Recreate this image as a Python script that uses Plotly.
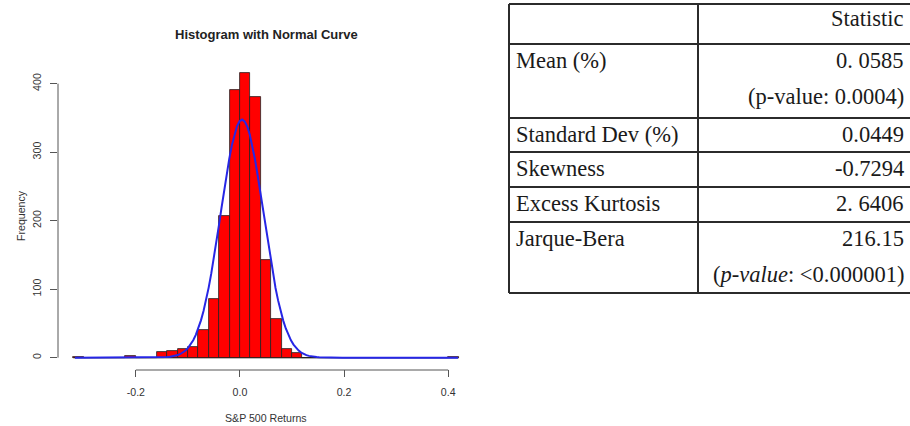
import math
import plotly.graph_objects as go

# ---------------- data ----------------
bin_start = -0.32
bin_width = 0.02
counts = [1, 0, 0, 0, 0, 2, 0, 0, 8, 9, 12, 15, 41, 85, 207, 391, 415, 380,
          143, 57, 12, 7, 0, 0, 0, 0, 0, 0, 0, 0, 0, 0, 0, 0, 0, 0, 1]
normal_mean = 0.004
normal_sd = 0.041
data_min = -0.317
data_max = 0.419
n_curve_points = 150

x_tickvals = [-0.2, 0.0, 0.2, 0.4]
x_ticktext = ["-0.2", "0.0", "0.2", "0.4"]
y_tickvals = [0, 100, 200, 300, 400]

table_header = "Statistic"
table_labels = ["Mean (%)", "Standard Dev (%)", "Skewness", "Excess Kurtosis", "Jarque-Bera"]
table_values = ["0. 0585", "0.0449", "-0.7294", "2. 6406", "216.15"]
table_notes = ["(p-value: 0.0004)", None, None, None, "(<i>p-value</i>: &lt;0.000001)"]

# ---------------- derived ----------------
centers = [bin_start + bin_width * (i + 0.5) for i in range(len(counts))]
bin_end = bin_start + bin_width * len(counts)
total = sum(counts)
step = (data_max - data_min) / (n_curve_points - 1)
xfit = [data_min + step * i for i in range(n_curve_points)]
yfit = [total * bin_width * math.exp(-0.5 * ((x - normal_mean) / normal_sd) ** 2)
        / (normal_sd * math.sqrt(2 * math.pi)) for x in xfit]

span = bin_end - bin_start
xr = [bin_start - 0.04 * span, bin_end + 0.04 * span]
ymax = max(counts)
yr = [-0.04 * ymax, ymax * 1.04]

# plot area in pixels
W, H = 910, 426
PL, PR, PT, PB = 58, 474, 62, 369


def px_x(p):
    return (p - PL) / (PR - PL)


def px_y(p):
    return (PB - p) / (PB - PT)


fig = go.Figure()
fig.add_trace(go.Bar(x=centers, y=counts, width=bin_width,
                     marker=dict(color="#ff0000", line=dict(color="#222222", width=0.8)),
                     showlegend=False, hoverinfo="skip"))
fig.add_trace(go.Scatter(x=xfit, y=yfit, mode="lines",
                         line=dict(color="#2626e6", width=2),
                         showlegend=False, hoverinfo="skip"))

axis_col = "#555555"
text_col = "#333333"
shapes = [
    # zero-count baseline (R draws empty bins as flat rects)
    dict(type="line", xref="x", yref="y", x0=bin_start, x1=bin_end, y0=0, y1=0,
         line=dict(color="#222222", width=1.2), layer="below"),
    # R-style axis lines
    dict(type="line", xref="x", yref="paper", x0=x_tickvals[0], x1=x_tickvals[-1],
         y0=px_y(370), y1=px_y(370), line=dict(color=axis_col, width=1)),
    dict(type="line", xref="paper", yref="y", x0=0, x1=0, y0=y_tickvals[0], y1=y_tickvals[-1],
         line=dict(color=axis_col, width=1)),
]

annotations = [
    dict(text="<b>Histogram with Normal Curve</b>", xref="paper", yref="paper",
         x=px_x(266), y=px_y(35), showarrow=False, xanchor="center", yanchor="middle",
         font=dict(family="Liberation Sans, Arial", size=13, color="#222222")),
    dict(text="S&P 500 Returns", xref="paper", yref="paper",
         x=px_x(266), y=px_y(418), showarrow=False, xanchor="center", yanchor="middle",
         font=dict(family="Liberation Sans, Arial", size=10.6, color=text_col)),
    dict(text="Frequency", xref="paper", yref="paper", textangle=-90,
         x=px_x(21), y=px_y(216), showarrow=False, xanchor="center", yanchor="middle",
         font=dict(family="Liberation Sans, Arial", size=10.6, color=text_col)),
]

# ---------------- table ----------------
tbl_left, tbl_mid, tbl_right = 509, 698, 915
row_lines = [4, 44, 118, 152, 187, 222, 293]
line_pitch = 36
first_offset = 16
tcol = "#2b2b2b"
tfont = dict(family="Liberation Serif, Times New Roman", size=22.5, color="#1a1a1a")

for yline in row_lines:
    shapes.append(dict(type="line", xref="paper", yref="paper",
                       x0=px_x(tbl_left), x1=px_x(tbl_right), y0=px_y(yline), y1=px_y(yline),
                       line=dict(color=tcol, width=2)))
for xline in (tbl_left, tbl_mid):
    shapes.append(dict(type="line", xref="paper", yref="paper",
                       x0=px_x(xline), x1=px_x(xline), y0=px_y(row_lines[0]), y1=px_y(row_lines[-1]),
                       line=dict(color=tcol, width=2)))

annotations.append(dict(text=table_header, xref="paper", yref="paper",
                        x=px_x(906), y=px_y(row_lines[0] + first_offset - 1),
                        showarrow=False, xanchor="right", yanchor="middle", font=tfont))
for i, (lab, val, note) in enumerate(zip(table_labels, table_values, table_notes)):
    top = row_lines[i + 1]
    yc = top + first_offset
    annotations.append(dict(text=lab, xref="paper", yref="paper", x=px_x(514), y=px_y(yc),
                            showarrow=False, xanchor="left", yanchor="middle", font=tfont))
    annotations.append(dict(text=val, xref="paper", yref="paper", x=px_x(906), y=px_y(yc),
                            showarrow=False, xanchor="right", yanchor="middle", font=tfont))
    if note:
        annotations.append(dict(text=note, xref="paper", yref="paper", x=px_x(906),
                                y=px_y(yc + line_pitch), showarrow=False,
                                xanchor="right", yanchor="middle", font=tfont))

fig.update_layout(
    width=W, height=H,
    margin=dict(l=PL, r=W - PR, t=PT, b=H - PB, autoexpand=False),
    paper_bgcolor="white", plot_bgcolor="white",
    bargap=0,
    shapes=shapes, annotations=annotations,
    xaxis=dict(range=xr, tickvals=x_tickvals, ticktext=x_ticktext, ticks="outside",
               ticklen=7, tickcolor=axis_col, tickwidth=1, showline=False, showgrid=False,
               zeroline=False, ticklabelstandoff=6,
               tickfont=dict(family="Liberation Sans, Arial", size=10.6, color=text_col)),
    yaxis=dict(range=yr, tickvals=y_tickvals, ticks="outside", ticklen=7, tickcolor=axis_col,
               tickwidth=1, showline=False, showgrid=False, zeroline=False, tickangle=-90,
               ticklabelstandoff=5,
               tickfont=dict(family="Liberation Sans, Arial", size=10.6, color=text_col)),
)

fig.write_html("out.html")
